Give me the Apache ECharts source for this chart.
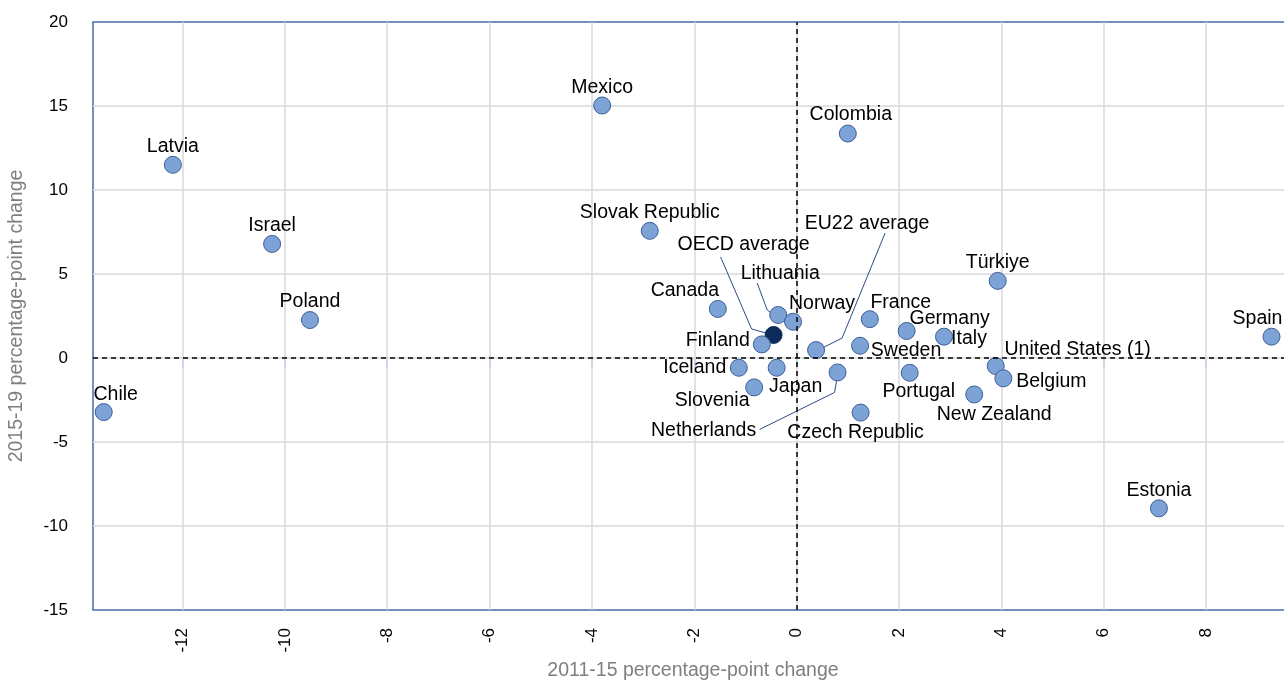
<!DOCTYPE html>
<html>
<head>
<meta charset="utf-8">
<script src="https://cdn.jsdelivr.net/npm/echarts@6/dist/echarts.min.js"></script>
<style>
  html, body { margin: 0; padding: 0; background: #fff; }
  #chart { width: 1284px; height: 681px; }
</style>
</head>
<body>
<div id="chart"></div>
<script>
// 国家名称
var countries = ['Chile', 'Latvia', 'Israel', 'Poland', 'Mexico', 'Colombia', 'Slovak Republic', 'Canada',
    'Lithuania', 'Norway', 'OECD average', 'Finland', 'EU22 average', 'France', 'Sweden', 'Germany', 'Italy',
    'Türkiye', 'United States (1)', 'Belgium', 'New Zealand', 'Portugal', 'Czech Republic', 'Netherlands',
    'Japan', 'Iceland', 'Slovenia', 'Spain', 'Estonia'];
// 2011-15 变化 (x)
var change1115 = [-13.54, -12.19, -10.25, -9.51, -3.80, 1.00, -2.87, -1.54,
    -0.36, -0.07, -0.45, -0.68, 0.38, 1.43, 1.24, 2.15, 2.88,
    3.93, 3.89, 4.04, 3.47, 2.21, 1.25, 0.80,
    -0.39, -1.13, -0.83, 9.28, 7.08];
// 2015-19 变化 (y)
var change1519 = [-3.22, 11.50, 6.79, 2.26, 15.03, 13.36, 7.57, 2.92,
    2.56, 2.16, 1.37, 0.81, 0.47, 2.31, 0.73, 1.61, 1.27,
    4.59, -0.48, -1.21, -2.17, -0.88, -3.25, -0.86,
    -0.58, -0.58, -1.75, 1.27, -8.95];

// 标签相对点的偏移(像素)
var labelOffsets = {
    'Chile': [12, -17], 'Canada': [-33, -18], 'Lithuania': [2, -41], 'OECD average': [-30, -90],
    'Norway': [29, -18], 'Finland': [-44, -4], 'EU22 average': [51, -126], 'France': [31, -17],
    'Germany': [43, -12], 'Italy': [25, 2], 'Sweden': [46, 5], 'United States (1)': [82, -16],
    'Belgium': [48, 3], 'New Zealand': [20, 20], 'Portugal': [9, 19], 'Czech Republic': [-5, 20],
    'Netherlands': [-134, 58], 'Japan': [19, 19], 'Iceland': [-44, 0], 'Slovenia': [-42, 13],
    'Spain': [-14, -18], 'Colombia': [3, -19]
};
// 引导线折点(相对点中心的像素偏移)
var leaderBends = {
    'OECD average': [[-53, -78], [-22, -6], [-8, -2]],
    'Lithuania': [[-21, -32], [-11, -5], [-7, -2]],
    'EU22 average': [[69, -117], [26, -12], [8, -3]],
    'Netherlands': [[-78, 57], [-3, 20], [-1, 8]]
};

var FONT = "'Liberation Sans', Arial, sans-serif";

var points = countries.map(function (name, i) {
    var item = { name: name, value: [change1115[i], change1519[i]] };
    if (name === 'OECD average') {
        item.itemStyle = { color: '#0c2b5b', borderColor: '#0c2b5b' };
    }
    return item;
});

//引导线数据: [x, y, 国家序号]
var leaderData = [];
countries.forEach(function (name, i) {
    if (leaderBends[name]) {
        leaderData.push([change1115[i], change1519[i], i]);
    }
});

var myChart = echarts.init(document.getElementById('chart'));
myChart.setOption({
    animation: false,
    backgroundColor: '#fff',
    grid: {
        left: 93, top: 22, width: 1200, height: 588,
        outerBoundsMode: 'none', containLabel: false,
        show: true, borderColor: '#4a6ca6', borderWidth: 1.5
    },
    xAxis: {
        type: 'value', min: -13.75, max: 9.7, splitNumber: 12, minInterval: 2, maxInterval: 2,
        name: '2011-15 percentage-point change', nameLocation: 'middle', nameGap: 48,
        nameTextStyle: { color: '#7f7f7f', fontSize: 19.5, fontFamily: FONT },
        axisLine: { show: false },
        axisTick: { show: true, length: 10, lineStyle: { color: '#c5d3ea', width: 1.5 } },
        axisLabel: { rotate: 90, margin: 18, color: '#000', fontSize: 17, fontFamily: FONT,
            showMinLabel: false, showMaxLabel: false },
        splitLine: { showMinLine: false, showMaxLine: false, lineStyle: { color: '#d9d9d9', width: 1.5 } }
    },
    yAxis: {
        type: 'value', min: -15, max: 20, interval: 5,
        name: '2015-19 percentage-point change', nameLocation: 'middle', nameGap: 66,
        nameTextStyle: { color: '#7f7f7f', fontSize: 19.5, fontFamily: FONT },
        axisLine: { show: false },
        axisTick: { show: false },
        axisLabel: { margin: 25, color: '#000', fontSize: 17, fontFamily: FONT },
        splitLine: { showMinLine: false, showMaxLine: false, lineStyle: { color: '#d9d9d9', width: 1.5 } }
    },
    series: [
        {
            // 零值虚线
            type: 'scatter', data: [], z: 1, silent: true,
            markLine: {
                silent: true, symbol: 'none', label: { show: false },
                lineStyle: { color: '#000', type: [5, 4], width: 1.5 },
                data: [{ xAxis: 0 }, { yAxis: 0 }]
            }
        },
        {
            // 标签引导线
            type: 'custom', z: 2, silent: true,
            data: leaderData,
            encode: { x: 0, y: 1 },
            renderItem: function (params, api) {
                var c = api.coord([api.value(0), api.value(1)]);
                var bends = leaderBends[countries[api.value(2)]];
                return {
                    type: 'polyline',
                    shape: { points: bends.map(function (p) { return [c[0] + p[0], c[1] + p[1]]; }) },
                    style: { stroke: '#2c4c82', lineWidth: 1, fill: null }
                };
            }
        },
        {
            type: 'scatter', z: 3,
            symbol: 'circle', symbolSize: 17,
            data: points,
            itemStyle: { color: '#7ca2d6', borderColor: '#3c5f97', borderWidth: 1, opacity: 1 },
            label: {
                show: true, position: 'inside', formatter: '{b}',
                color: '#000', fontSize: 19.5, fontFamily: FONT
            },
            labelLayout: function (params) {
                var off = labelOffsets[countries[params.dataIndex]] || [0, -18];
                return { dx: off[0], dy: off[1] };
            }
        }
    ]
});
</script>
</body>
</html>
